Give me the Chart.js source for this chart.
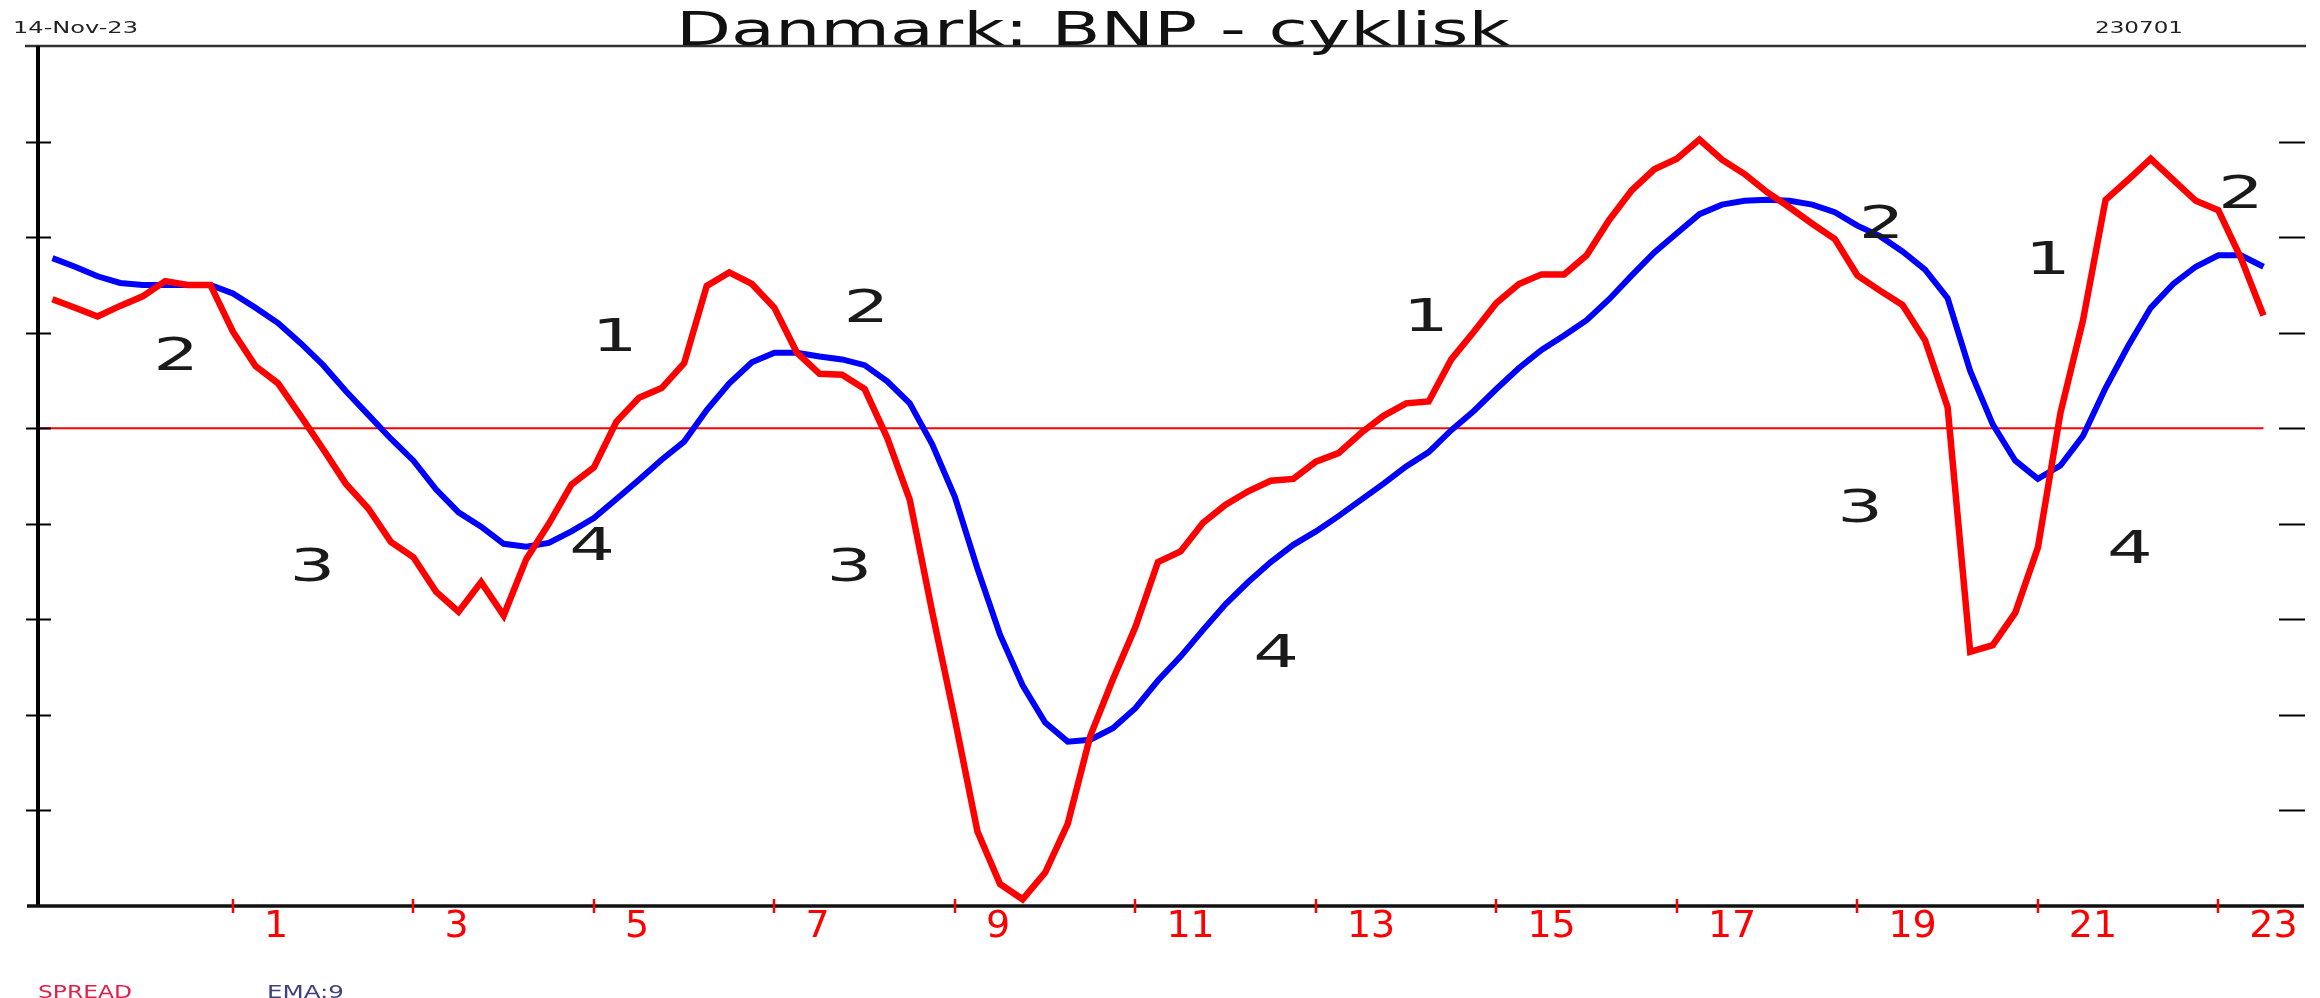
<!DOCTYPE html>
<html>
<head>
<meta charset="utf-8">
<title>Danmark: BNP - cyklisk</title>
<script src="https://cdn.jsdelivr.net/npm/chart.js@4.4.0/dist/chart.umd.min.js"></script>
<style>
  html, body { margin: 0; padding: 0; background: #fff; }
  #wrap { width: 2320px; height: 998px; }
</style>
</head>
<body>
<div id="wrap"><canvas id="bnp_chart" width="2320" height="998"></canvas></div>
<script>
// Quarters on the x axis
var quarters = [
  '1999Q1','1999Q2','1999Q3','1999Q4', '2000Q1','2000Q2','2000Q3','2000Q4',
  '2001Q1','2001Q2','2001Q3','2001Q4', '2002Q1','2002Q2','2002Q3','2002Q4',
  '2003Q1','2003Q2','2003Q3','2003Q4', '2004Q1','2004Q2','2004Q3','2004Q4',
  '2005Q1','2005Q2','2005Q3','2005Q4', '2006Q1','2006Q2','2006Q3','2006Q4',
  '2007Q1','2007Q2','2007Q3','2007Q4', '2008Q1','2008Q2','2008Q3','2008Q4',
  '2009Q1','2009Q2','2009Q3','2009Q4', '2010Q1','2010Q2','2010Q3','2010Q4',
  '2011Q1','2011Q2','2011Q3','2011Q4', '2012Q1','2012Q2','2012Q3','2012Q4',
  '2013Q1','2013Q2','2013Q3','2013Q4', '2014Q1','2014Q2','2014Q3','2014Q4',
  '2015Q1','2015Q2','2015Q3','2015Q4', '2016Q1','2016Q2','2016Q3','2016Q4',
  '2017Q1','2017Q2','2017Q3','2017Q4', '2018Q1','2018Q2','2018Q3','2018Q4',
  '2019Q1','2019Q2','2019Q3','2019Q4', '2020Q1','2020Q2','2020Q3','2020Q4',
  '2021Q1','2021Q2','2021Q3','2021Q4', '2022Q1','2022Q2','2022Q3','2022Q4',
  '2023Q1','2023Q2','2023Q3'
];

// SPREAD (red)
var spread = [
  1.35, 1.26, 1.17, 1.28,   1.38, 1.54, 1.50, 1.50,
  1.01, 0.65, 0.47, 0.13,   -0.22, -0.58, -0.84, -1.19,
  -1.35, -1.71, -1.92, -1.61,   -1.96, -1.37, -1.00, -0.59,
  -0.41, 0.07, 0.32, 0.42,   0.68, 1.49, 1.63, 1.51,
  1.26, 0.79, 0.57, 0.56,   0.41, -0.10, -0.75, -1.93,
  -3.05, -4.22, -4.77, -4.93,   -4.65, -4.14, -3.22, -2.63,
  -2.08, -1.40, -1.29, -0.99,   -0.80, -0.66, -0.55, -0.53,
  -0.35, -0.26, -0.05, 0.13,   0.26, 0.28, 0.72, 1.01,
  1.31, 1.51, 1.61, 1.61,   1.81, 2.18, 2.49, 2.71,
  2.82, 3.02, 2.81, 2.66,   2.47, 2.31, 2.14, 1.98,
  1.60, 1.44, 1.29, 0.92,   0.22, -2.34, -2.27, -1.93,
  -1.25, 0.16, 1.13, 2.39,   2.60, 2.82, 2.60, 2.38,
  2.28, 1.78, 1.18
];

// EMA:9 (blue)
var ema9 = [
  1.78, 1.69, 1.59, 1.52,   1.50, 1.50, 1.50, 1.50,
  1.41, 1.26, 1.10, 0.89,   0.66, 0.39, 0.14, -0.11,
  -0.34, -0.64, -0.88, -1.03,   -1.21, -1.24, -1.20, -1.08,
  -0.94, -0.74, -0.54, -0.33,   -0.14, 0.19, 0.47, 0.69,
  0.79, 0.79, 0.75, 0.72,   0.66, 0.49, 0.26, -0.17,
  -0.72, -1.47, -2.16, -2.69,   -3.08, -3.28, -3.26, -3.14,
  -2.93, -2.64, -2.39, -2.11,   -1.84, -1.61, -1.40, -1.22,
  -1.08, -0.92, -0.75, -0.58,   -0.40, -0.25, -0.02, 0.18,
  0.41, 0.63, 0.82, 0.97,   1.13, 1.35, 1.60, 1.84,
  2.04, 2.24, 2.34, 2.38,   2.39, 2.38, 2.34, 2.26,
  2.12, 2.01, 1.85, 1.66,   1.36, 0.60, 0.04, -0.34,
  -0.53, -0.39, -0.08, 0.42,   0.86, 1.26, 1.51, 1.69,
  1.81, 1.81, 1.69
];

// x tick labels (year within the century, every second year)
var tickLabels = ['1', '3', '5', '7', '9', '11', '13', '15', '17', '19', '21', '23'];

// cycle phase numbers written in the plot (x in years, y in chart units)
var phaseLabels = ['2', '3', '1', '4', '2', '3', '4', '1', '2', '3', '1', '4', '2'];
var phaseX = [2000.37, 2001.88, 2005.23, 2004.98, 2008.02, 2007.83, 2012.56, 2014.22, 2019.27, 2019.03, 2021.11, 2022.02, 2023.25];
var phaseY = [0.78, -1.43, 0.98, -1.21, 1.28, -1.43, -2.33, 1.19, 2.16, -0.81, 1.78, -1.24, 2.47];

const TITLE = 'Danmark: BNP - cyklisk';
const DATE_TEXT = '14-Nov-23';
const LAST_OBS = '230701';

const FONT = '"DejaVu Sans"';


function quarterToYear(q) {
	return parseInt(q.slice(0, 4)) + (parseInt(q.slice(5)) - 1) / 4;
}

// draws text stretched to a given width (the original type is very wide)
function wideText(c, text, x, y, size, color, width) {
	c.save();
	c.font = size + 'px ' + FONT;
	c.fillStyle = color;
	c.textAlign = 'left';
	c.textBaseline = 'alphabetic';
	var w = c.measureText(text).width;
	c.translate(x, y);
	c.scale(width / w, 1);
	c.fillText(text, 0, 0);
	c.restore();
}

var framePlugin = {
	id: 'frame',
	beforeDatasetsDraw: function(chart) {
		var c = chart.ctx;
		var a = chart.chartArea;
		var xs = chart.scales.x, ys = chart.scales.y;

		// red zero line, up to the last observation
		var y0 = ys.getPixelForValue(0);
		var xEnd = xs.getPixelForValue(quarterToYear(quarters[quarters.length - 1]));
		c.save();
		c.strokeStyle = '#ff0000';
		c.lineWidth = 2;
		c.beginPath();
		c.moveTo(a.left, y0);
		c.lineTo(xEnd, y0);
		c.stroke();
		c.restore();
	},
	afterDraw: function(chart) {
		var c = chart.ctx;
		var a = chart.chartArea;
		var xs = chart.scales.x, ys = chart.scales.y;

		c.save();
		c.lineCap = 'butt';

		// top border
		c.strokeStyle = '#333';
		c.lineWidth = 2.5;
		c.beginPath();
		c.moveTo(25, a.top);
		c.lineTo(a.right + 1, a.top);
		c.stroke();

		// left axis
		c.strokeStyle = '#000';
		c.lineWidth = 4;
		c.beginPath();
		c.moveTo(a.left, a.top);
		c.lineTo(a.left, a.bottom);
		c.stroke();

		// bottom axis
		c.strokeStyle = '#111';
		c.lineWidth = 3.5;
		c.beginPath();
		c.moveTo(27, a.bottom);
		c.lineTo(a.right - 1, a.bottom);
		c.stroke();

		// y tick marks, both sides
		c.strokeStyle = '#000';
		c.lineWidth = 2;
		for (var i = 0; i < ys.ticks.length; ++i) {
			var v = ys.ticks[i].value;
			if (v <= ys.min || v >= ys.max) continue;
			var py = Math.round(ys.getPixelForValue(v)) + 0.5;
			c.beginPath();
			c.moveTo(a.left - 12, py);
			c.lineTo(a.left + 13, py);
			c.moveTo(a.right - 26, py);
			c.lineTo(a.right, py);
			c.stroke();
		}

		// x tick marks (red)
		c.strokeStyle = '#ff0000';
		c.lineWidth = 2.5;
		for (var j = 0; j < xs.ticks.length; ++j) {
			var px = Math.round(xs.getPixelForValue(xs.ticks[j].value));
			c.beginPath();
			c.moveTo(px, a.bottom - 7);
			c.lineTo(px, a.bottom + 7);
			c.stroke();
		}
		c.restore();

		// header texts
		wideText(c, TITLE, 676, 45, 47, '#111', 834);
		wideText(c, DATE_TEXT, 13, 33, 15, '#222', 125);
		wideText(c, LAST_OBS, 2095, 33, 15, '#222', 88);

		// legend texts at the bottom
		wideText(c, chart.data.datasets[0].label, 38, 998, 18, '#e0204a', 94);
		wideText(c, chart.data.datasets[1].label, 267, 998, 18, '#404080', 77);

		// phase numbers
		c.save();
		c.font = '45px ' + FONT;
		c.fillStyle = '#1a1a1a';
		c.textAlign = 'center';
		c.textBaseline = 'alphabetic';
		for (var k = 0; k < phaseLabels.length; ++k) {
			var cx = xs.getPixelForValue(phaseX[k]);
			var cy = ys.getPixelForValue(phaseY[k]);
			c.save();
			c.translate(cx, cy + 16);
			c.scale(1.6, 1);
			c.fillText(phaseLabels[k], 0, 0);
			c.restore();
		}
		c.restore();
	}
};


var ctx_bnp = document.getElementById('bnp_chart').getContext('2d');
var chart = new Chart(ctx_bnp, {
	type: 'line',
	data: {
		datasets: [{
			label: 'SPREAD',
			data: quarters.map(function(q, i) { return {x: quarterToYear(q), y: spread[i]}; }),
			borderColor: '#ff0000',
			borderWidth: 6.5,
			pointRadius: 0,
			tension: 0,
			fill: false
		},
		{
			label: 'EMA:9',
			data: quarters.map(function(q, i) { return {x: quarterToYear(q), y: ema9[i]}; }),
			borderColor: '#0000ff',
			borderWidth: 6,
			pointRadius: 0,
			tension: 0,
			fill: false
		}]
	},
	options: {
		responsive: false,
		animation: false,
		devicePixelRatio: 1,
		layout: { padding: { top: 46, right: 15, left: 0, bottom: 0 } },
		plugins: {
			legend: { display: false },
			title: { display: false },
			tooltip: { enabled: false }
		},
		scales: {
			x: {
				type: 'linear',
				min: 1998.84,
				max: 2023.96,
				afterBuildTicks: function(scale) {
					scale.ticks = tickLabels.map(function(l) { return {value: 2000 + Number(l)}; });
				},
				afterFit: function(scale) { scale.height = 92; },
				ticks: {
					autoSkip: false,
					maxRotation: 0,
					minRotation: 0,
					align: 'start',
					labelOffset: 31,
					padding: 2,
					color: '#ff0000',
					font: { family: 'DejaVu Sans', size: 38, lineHeight: 1 },
					callback: function(value, index) { return tickLabels[index]; }
				},
				grid: { display: false, drawTicks: false },
				border: { display: false }
			},
			y: {
				min: -5,
				max: 4,
				afterFit: function(scale) { scale.width = 38; },
				ticks: { display: false, stepSize: 1 },
				grid: { display: false, drawTicks: false },
				border: { display: false }
			}
		}
	},
	plugins: [framePlugin]
});
</script>
</body>
</html>
